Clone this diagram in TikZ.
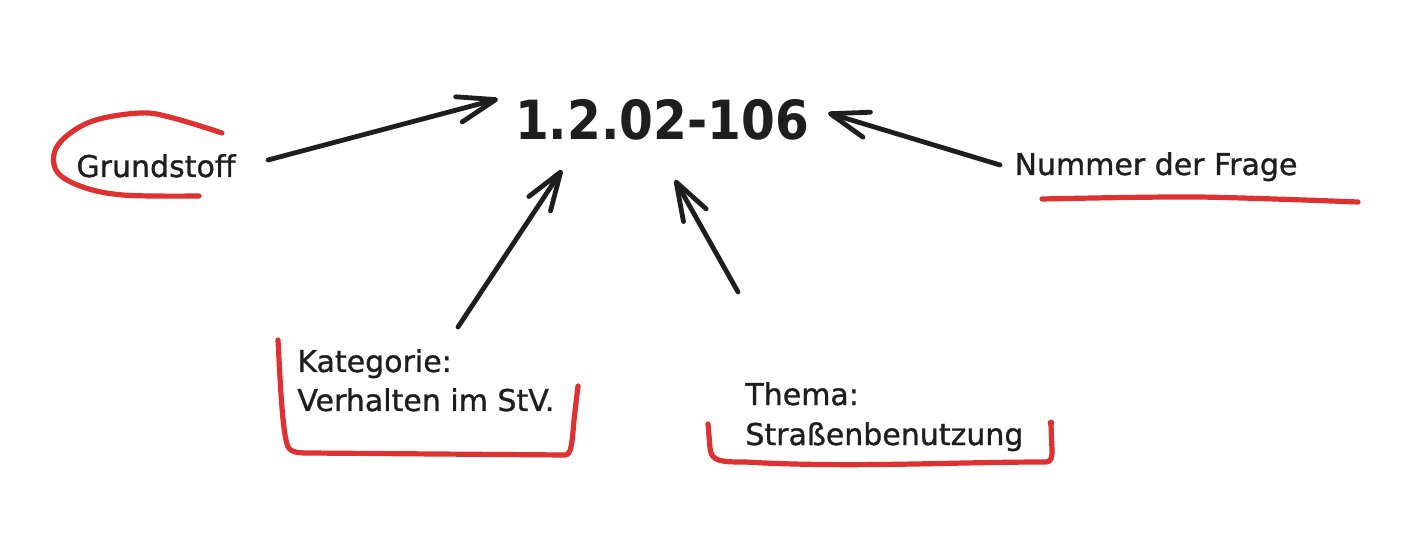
\documentclass[tikz,border=0pt]{standalone}
\usepackage{fontspec}
\setmainfont{DejaVu Sans}
\newfontfamily\titlefont[FakeStretch=0.9]{DejaVu Sans Bold}
\newfontfamily\labelfont[FakeBold=1]{DejaVu Sans}
\usetikzlibrary{arrows.meta}
\definecolor{ink}{HTML}{1E1E1E}
\definecolor{redpen}{HTML}{E03131}
\begin{document}
\begin{tikzpicture}[x=0.5pt,y=-0.5pt,
  lbl/.style={inner sep=0pt, text=ink, font=\labelfont\fontsize{15}{19.5}\selectfont},
  arr/.style={draw=ink, line width=2.4pt, line cap=round,
    -{Straight Barb[length=19pt,width=13pt,line cap=round,line join=round]}},
  hl/.style={draw=redpen, line width=2.6pt, line cap=round, line join=round}]
\useasboundingbox[fill=white] (0,0) rectangle (1428,544);

% texts
\node[lbl, font=\titlefont\fontsize{27}{32}\selectfont, anchor=base] (title) at (662,140) {1.2.02-106};
\node[lbl, anchor=base] (gs) at (156,177) {Grundstoff};
\node[lbl, anchor=base] (num) at (1156,175) {Nummer der Frage};
\node[lbl, anchor=base west, align=left] (kat) at (297,411) {Kategorie:\\Verhalten im StV.};
\node[lbl, anchor=base west, align=left, font=\labelfont\fontsize{15}{20}\selectfont] (thema) at (745,445) {Thema:\\Straßenbenutzung};

% arrow end points
\coordinate (gsA) at (268,160);
\coordinate (tA) at (498,99);
\coordinate (numA) at (1000,165);
\coordinate (tB) at (828,113);
\coordinate (katA) at (458,327);
\coordinate (tC) at (562,170);
\coordinate (themaA) at (738,292);
\coordinate (tD) at (675,180);

\draw[arr] (gsA) -- (tA);
\draw[arr] (numA) -- (tB);
\draw[arr] (katA) -- (tC);
\draw[arr] (themaA) -- (tD);

% red marks
\draw[hl] plot[smooth, tension=0.6] coordinates {(222,133) (173,118) (140,113) (90,122) (58,145) (56,170) (80,186) (123,195) (199,196)};
\draw[hl] plot[smooth, tension=0.5] coordinates {(1042,199) (1197,197) (1358,202)};
\draw[hl] (278,340) .. controls (281,400) and (283,430) .. (287,444)
  .. controls (289,452) and (296,453) .. (308,453) -- (565,455)
  .. controls (571,455) and (572,445) .. (574,420) -- (578,386);
\draw[hl] (708,424) -- (710,448) .. controls (711,462) and (722,462) .. (745,462)
  .. controls (850,468) and (950,462) .. (1046,462)
  .. controls (1051,462) and (1052,458) .. (1052,450) -- (1051,425);
\fill[redpen] (1051,423) circle (3.4);
\end{tikzpicture}
\end{document}
